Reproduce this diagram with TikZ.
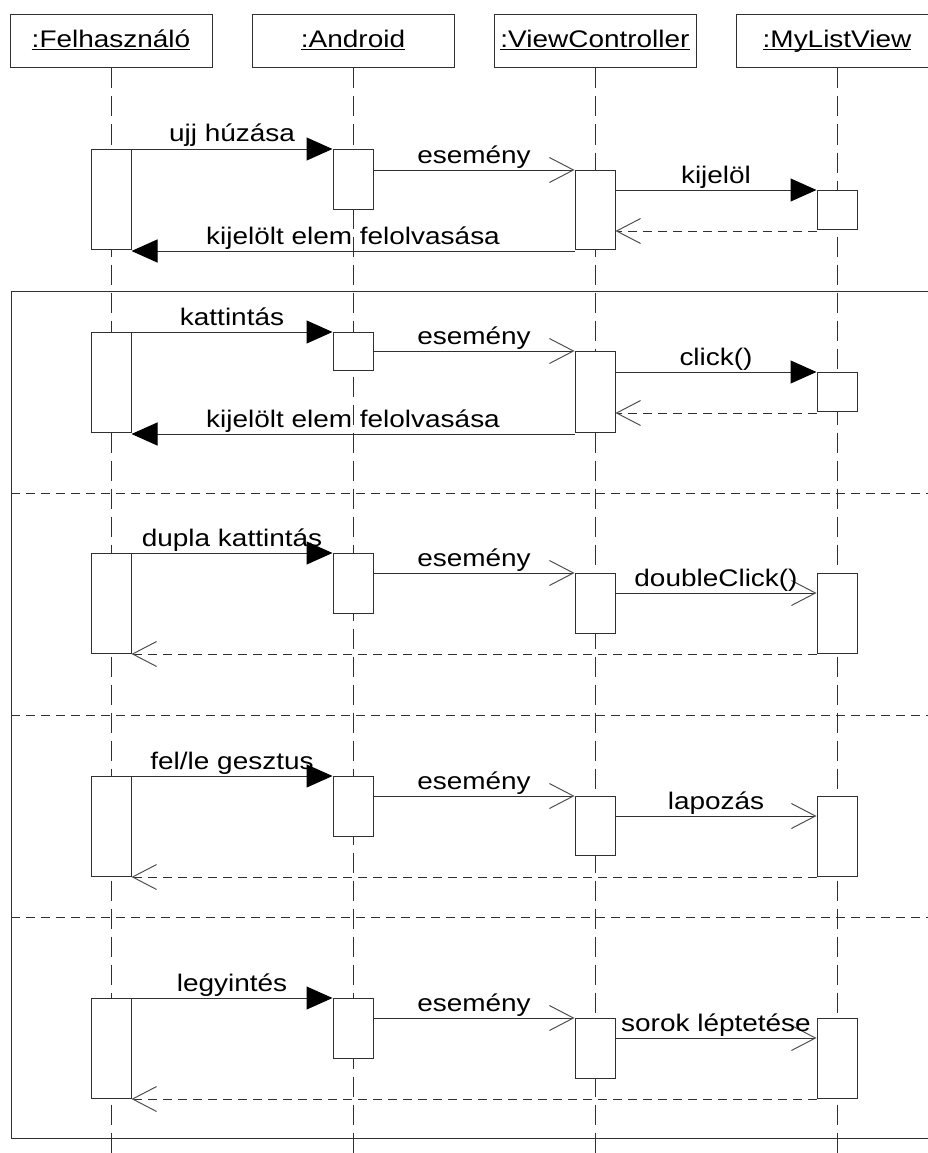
\documentclass[tikz,border=0pt]{standalone}
\usepackage{fontspec}
\setmainfont[FakeStretch=1.165]{Liberation Sans}
\usetikzlibrary{arrows.meta}
\definecolor{ln}{HTML}{303030}
\definecolor{tip}{HTML}{505050}
\tikzset{
  every node/.style={font=\fontsize{24}{28}\selectfont},
  obj/.style={draw=ln, line width=1pt, fill=white, minimum width=202pt, minimum height=53pt, inner sep=0pt, text height=17pt, text depth=5pt},
  act/.style={draw=ln, line width=1pt, fill=white, minimum width=40pt, inner sep=0pt, anchor=north},
  life/.style={draw=ln, line width=1pt, dash pattern=on 20pt off 8pt},
  sync/.style={draw=ln, line width=1pt, -{Triangle[length=26pt,width=23pt,fill=black,color=black]}},
  async/.style={draw=ln, line width=1pt, -{Straight Barb[length=24pt,width=25pt,color=tip]}},
  reply/.style={async, dash pattern=on 9pt off 6pt},
  sep/.style={draw=ln, line width=1pt, dash pattern=on 9pt off 6pt},
  lbl/.style={anchor=base, yshift=7pt, inner sep=0pt}
}
\newcommand{\objname}[1]{\underline{\smash{#1}}}
\begin{document}
\begin{tikzpicture}[x=1pt, y=-1pt]
\useasboundingbox (0,0) rectangle (928,1153);

% object headers
\node[obj] (hF) at (111,41.5) {\objname{:Felhasználó}};
\node[obj] (hA) at (353,41.5) {\objname{:Android}};
\node[obj] (hV) at (595,41.5) {\objname{:ViewController}};
\node[obj] (hM) at (837,41.5) {\objname{:MyListView}};

% lifelines
\coordinate (eF) at (111,1153);
\coordinate (eA) at (353,1153);
\coordinate (eV) at (595,1153);
\coordinate (eM) at (837,1153);
\draw[life] (hF.south) -- (eF);
\draw[life] (hA.south) -- (eA);
\draw[life] (hV.south) -- (eV);
\draw[life] (hM.south) -- (eM);

% combined fragment frame with operand separators
\coordinate (frTL) at (11,291);
\coordinate (frBR) at (940,1138);
\draw[draw=ln, line width=1pt] (frTL) rectangle (frBR);
\foreach \y/\n in {493/s1,715/s2,917/s3} {
  \coordinate (\n l) at (11,\y);
  \coordinate (\n r) at (940,\y);
  \draw[sep] (\n l) -- (\n r);
}

% ---------- swipe (drag) ----------
\node[act, minimum height=100pt] (f1) at (111,149) {};
\node[act, minimum height=60pt]  (a1) at (353,149) {};
\node[act, minimum height=79pt]  (v1) at (595,170) {};
\node[act, minimum height=39pt]  (m1) at (837,190) {};
\draw[sync] (f1.north east) -- node[lbl] {ujj húzása} (a1.north west);
\draw[async] (a1.east |- v1.north) -- node[lbl] {esemény} (v1.north west);
\draw[sync] (v1.east |- m1.north) -- node[lbl] {kijelöl} (m1.north west);
\draw[reply] ([yshift=-1pt]m1.south west) -- ([yshift=-1pt]v1.east |- m1.south);
\draw[sync] ([yshift=-1pt]v1.south west) -- node[lbl] {kijelölt elem felolvasása} ([yshift=-1pt]f1.south east);

% ---------- click ----------
\node[act, minimum height=100pt] (f2) at (111,332) {};
\node[act, minimum height=38pt]  (a2) at (353,332) {};
\node[act, minimum height=81pt]  (v2) at (595,351) {};
\node[act, minimum height=39pt]  (m2) at (837,372) {};
\draw[sync] (f2.north east) -- node[lbl] {kattintás} (a2.north west);
\draw[async] (a2.east |- v2.north) -- node[lbl] {esemény} (v2.north west);
\draw[sync] (v2.east |- m2.north) -- node[lbl] {click()} (m2.north west);
\draw[reply] ([yshift=-1pt]m2.south west) -- ([yshift=-1pt]v2.east |- m2.south);
\draw[sync] ([yshift=-1pt]v2.south west) -- node[lbl] {kijelölt elem felolvasása} ([yshift=-1pt]f2.south east);

% ---------- double click ----------
\node[act, minimum height=100pt] (f3) at (111,553) {};
\node[act, minimum height=60pt]  (a3) at (353,553) {};
\node[act, minimum height=60pt]  (v3) at (595,573) {};
\node[act, minimum height=80pt]  (m3) at (837,573) {};
\draw[sync] (f3.north east) -- node[lbl] {dupla kattintás} (a3.north west);
\draw[async] (a3.east |- v3.north) -- node[lbl] {esemény} (v3.north west);
\draw[async] ([yshift=-20pt]v3.north east) -- node[lbl] {doubleClick()} ([yshift=-20pt]m3.north west);
\draw[reply] (m3.south west) -- (f3.south east);

% ---------- up/down gesture ----------
\node[act, minimum height=100pt] (f4) at (111,776) {};
\node[act, minimum height=60pt]  (a4) at (353,776) {};
\node[act, minimum height=59pt]  (v4) at (595,796) {};
\node[act, minimum height=80pt]  (m4) at (837,796) {};
\draw[sync] (f4.north east) -- node[lbl] {fel/le gesztus} (a4.north west);
\draw[async] (a4.east |- v4.north) -- node[lbl] {esemény} (v4.north west);
\draw[async] ([yshift=-20pt]v4.north east) -- node[lbl] {lapozás} ([yshift=-20pt]m4.north west);
\draw[reply] (m4.south west) -- (f4.south east);

% ---------- fling ----------
\node[act, minimum height=100pt] (f5) at (111,998) {};
\node[act, minimum height=60pt]  (a5) at (353,998) {};
\node[act, minimum height=60pt]  (v5) at (595,1018) {};
\node[act, minimum height=80pt]  (m5) at (837,1018) {};
\draw[sync] (f5.north east) -- node[lbl] {legyintés} (a5.north west);
\draw[async] (a5.east |- v5.north) -- node[lbl] {esemény} (v5.north west);
\draw[async] ([yshift=-20pt]v5.north east) -- node[lbl] {sorok léptetése} ([yshift=-20pt]m5.north west);
\draw[reply] (m5.south west) -- (f5.south east);
\end{tikzpicture}
\end{document}
